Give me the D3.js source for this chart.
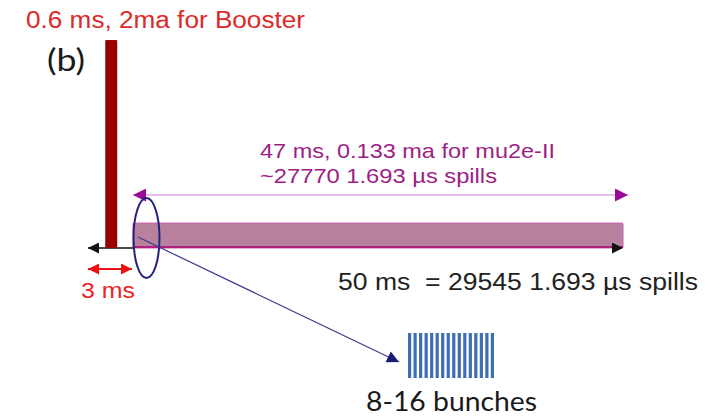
<!DOCTYPE html>
<html><head><meta charset="utf-8">
<script src="https://d3js.org/d3.v7.min.js"></script>
<style>html,body{margin:0;padding:0;background:#fff;}svg{display:block;}</style>
</head><body>
<script>
// Schematic time axis (ms) and beam current (mA)
const phaseNames = ["Booster", "mu2e-II"];
const phaseStart = [1.15, 3.0];   // ms (schematic positions)
const phaseEnd   = [1.95, 50.0];  // ms
const phaseLevel = [2.0, 0.24];   // mA (schematic heights)
const gapMs = [0, 3];             // the 3 ms gap
const bunchCount = 16;
const labels = {
  booster: "0.6 ms, 2ma for Booster",
  panel: "(b)",
  mu2e1: "47 ms, 0.133 ma for mu2e-II",
  mu2e2: "~27770 1.693 µs spills",
  total: "50 ms  = 29545 1.693 µs spills",
  gap: "3 ms",
  bunches: "8-16 bunches"
};

const W = 724, H = 418;
const svg = d3.select("body").append("svg").attr("width", W).attr("height", H);
const defs = svg.append("defs");
function marker(id, color, w, h) {
  defs.append("marker").attr("id", id).attr("viewBox", "0 0 10 10")
    .attr("refX", 10).attr("refY", 5).attr("markerUnits", "userSpaceOnUse")
    .attr("markerWidth", w).attr("markerHeight", h).attr("orient", "auto-start-reverse")
    .append("path").attr("d", "M0,0 L10,5 L0,10 Z").attr("fill", color);
}
marker("mBlack", "#111", 17, 11);
marker("mPurple", "#990a99", 20, 13);
marker("mRed", "#ee1111", 11, 11);
marker("mNavy", "#1a1a78", 16, 12);

const x = d3.scaleLinear().domain([0, 3, 50]).range([88, 133, 623]);
const y = d3.scaleLinear().domain([0, 2]).range([248, 40]);

// mu2e pink bar
svg.append("rect").attr("x", x(phaseStart[1])).attr("y", y(phaseLevel[1]))
  .attr("width", x(phaseEnd[1]) - x(phaseStart[1])).attr("height", y(0) - y(phaseLevel[1]))
  .attr("fill", "#b8829f").attr("stroke", "#d060b0").attr("stroke-width", 1).attr("rx", 1);
svg.append("line").attr("x1", x(phaseStart[1])).attr("x2", x(phaseEnd[1]))
  .attr("y1", y(0) - 1).attr("y2", y(0) - 1).attr("stroke", "#b0207f").attr("stroke-width", 2);

// axis arrows (black)
svg.append("line").attr("x1", x(gapMs[1])).attr("x2", x(0)).attr("y1", y(0)).attr("y2", y(0))
  .attr("stroke", "#111").attr("stroke-width", 1.5).attr("marker-end", "url(#mBlack)");
svg.append("path").attr("d", `M${x(48.4)},${y(0)} L${x(phaseEnd[1])},${y(0)}`)
  .attr("stroke", "#111").attr("stroke-width", 0).attr("marker-end", "url(#mBlack)");

// Booster bar
svg.append("rect").attr("x", x(phaseStart[0])).attr("y", y(phaseLevel[0]))
  .attr("width", x(phaseEnd[0]) - x(phaseStart[0])).attr("height", y(0) - y(phaseLevel[0]))
  .attr("fill", "#990000").attr("rx", 1);

// purple double arrow (47 ms)
svg.append("line").attr("x1", x(phaseStart[1])).attr("x2", 628).attr("y1", 195).attr("y2", 195)
  .attr("stroke", "#e2a8e2").attr("stroke-width", 1.5)
  .attr("marker-start", "url(#mPurple)").attr("marker-end", "url(#mPurple)");

// red double arrow (3 ms)
svg.append("line").attr("x1", x(gapMs[0])).attr("x2", x(gapMs[1]) - 1).attr("y1", 269).attr("y2", 269)
  .attr("stroke", "#ee1111").attr("stroke-width", 2)
  .attr("marker-start", "url(#mRed)").attr("marker-end", "url(#mRed)");

// ellipse
svg.append("ellipse").attr("cx", 146.5).attr("cy", 238).attr("rx", 13).attr("ry", 40)
  .attr("fill", "none").attr("stroke", "#23237e").attr("stroke-width", 2);

// navy zoom arrow
svg.append("line").attr("x1", 138).attr("y1", 237).attr("x2", 399).attr("y2", 362)
  .attr("stroke", "#3a3a90").attr("stroke-width", 1.2).attr("marker-end", "url(#mNavy)");

// bunches
const bx = d3.scaleBand().domain(d3.range(bunchCount)).range([408, 494]).paddingInner(0.42);
svg.append("g").selectAll("rect").data(d3.range(bunchCount)).join("rect")
  .attr("x", d => bx(d)).attr("y", 333).attr("width", bx.bandwidth()).attr("height", 45)
  .attr("fill", "#3f6db5");

// texts
const sans = "'Liberation Sans', Arial, sans-serif";
function txt(s, xx, yy, size, color, len, fam) {
  return svg.append("text").attr("x", xx).attr("y", yy).attr("font-family", fam || sans)
    .attr("font-size", size).attr("fill", color).attr("xml:space", "preserve")
    .style("white-space", "pre")
    .attr("textLength", len).attr("lengthAdjust", "spacingAndGlyphs").text(s);
}
txt(labels.booster, 26, 28, 23, "#dc2a2a", 279);
txt(labels.panel, 47, 71, 30, "#1a1a1a", 38, "Lato, sans-serif");
txt(labels.mu2e1, 260, 158, 21, "#9c1e86", 295);
txt(labels.mu2e2, 260, 183, 21, "#9c1e86", 237);
txt(labels.total, 338, 290, 23, "#222", 360);
txt(labels.gap, 81, 298, 22, "#ee2222", 54);
txt(labels.bunches, 366, 411, 27, "#1a1a1a", 171, "Lato, sans-serif");
</script>
</body></html>
